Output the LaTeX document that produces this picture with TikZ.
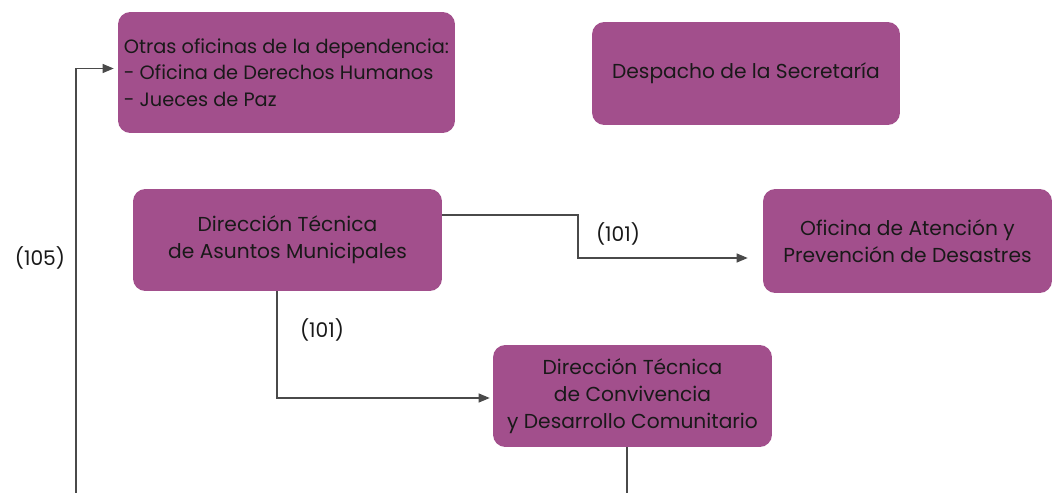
\documentclass[tikz,border=0pt]{standalone}
\usepackage{fontspec}
\setmainfont{Poppins}
\usetikzlibrary{arrows.meta, positioning}
\definecolor{boxfill}{HTML}{A24F8C}
\definecolor{linegray}{HTML}{4A4A4A}

\begin{document}
\begin{tikzpicture}[x=0.02cm, y=-0.02cm,
    every node/.style={font=\fontsize{11.5}{15.5}\selectfont, text=black!90},
    unit/.style={fill=boxfill, rounded corners=7pt, inner sep=3pt, align=center},
    conn/.style={draw=linegray, line width=0.6pt},
    arr/.style={conn, -{Triangle[length=2.2mm, width=1.8mm]}}
]
    \useasboundingbox (0,0) rectangle (1057,493);

    % Boxes
    \node[unit, minimum width=6.74cm, minimum height=2.42cm, align=left,
          font=\fontsize{11}{15}\selectfont] (otras) at (286.5,72.5)
        {Otras oficinas de la dependencia:\\- Oficina de Derechos Humanos\\- Jueces de Paz};
    \node[unit, minimum width=6.16cm, minimum height=2.06cm] (despacho) at (746,73.5)
        {Despacho de la Secretaría};
    \node[unit, minimum width=6.18cm, minimum height=2.04cm] (asuntos) at (287.5,240)
        {Dirección Técnica\\de Asuntos Municipales};
    \node[unit, minimum width=5.78cm, minimum height=2.08cm] (desastres) at (907.5,241)
        {Oficina de Atención y\\Prevención de Desastres};
    \node[unit, minimum width=5.58cm, minimum height=2.04cm] (convivencia) at (632.5,396)
        {Dirección Técnica\\de Convivencia\\y Desarrollo Comunitario};

    % Labels
    \node (l105) at (40,258) {(105)};
    \node (l101a) at (618,234) {(101)};
    \node (l101b) at (322,330) {(101)};

    % Connectors
    \coordinate (k1) at (578,215);
    \draw[arr, shorten >=0.3cm] (asuntos.east |- k1) -- (k1) |- ([yshift=-0.34cm]desastres.west);
    \coordinate (k2) at (277,398);
    \draw[arr, shorten >=0.06cm] (asuntos.south -| k2) -- (k2) -- (convivencia.west |- k2);
    \coordinate (e1) at (627,493);
    \draw[conn] (convivencia.south -| e1) -- (e1);
    \coordinate (e2) at (76,493);
    \draw[arr, shorten >=0.08cm] (e2) |- ([yshift=0.08cm]otras.west);
\end{tikzpicture}
\end{document}
